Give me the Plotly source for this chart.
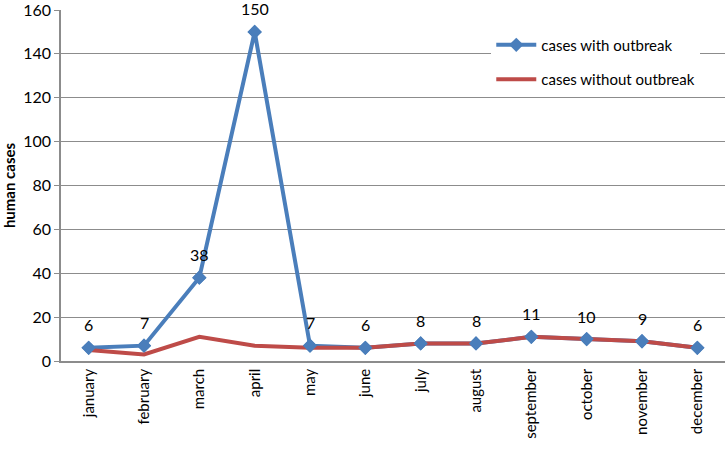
import plotly.graph_objects as go

months = ["january", "february", "march", "april", "may", "june", "july",
          "august", "september", "october", "november", "december"]
with_outbreak = [6, 7, 38, 150, 7, 6, 8, 8, 11, 10, 9, 6]
without_outbreak = [5, 3, 11, 7, 6, 6, 8, 8, 11, 10, 9, 6]
y_ticks = [0, 20, 40, 60, 80, 100, 120, 140, 160]

blue = "#4a7ebb"
red = "#be4b48"
grid = "#8c8c8c"
font = "Lato, Open Sans, sans-serif"

fig = go.Figure()
fig.add_trace(go.Scatter(
    x=months, y=with_outbreak, name="cases with outbreak",
    mode="lines+markers", legendgroup="a",
    line=dict(color=blue, width=4),
    marker=dict(symbol="diamond", size=11, color=blue),
))
fig.add_trace(go.Scatter(
    x=months, y=without_outbreak, name="cases without outbreak",
    mode="lines", legendgroup="b",
    line=dict(color=red, width=4),
))
# keep the blue diamonds visible on top of the red line
fig.add_trace(go.Scatter(
    x=months, y=with_outbreak, mode="markers", showlegend=False,
    marker=dict(symbol="diamond", size=11, color=blue),
    hoverinfo="skip",
))

for m, v in zip(months, with_outbreak):
    fig.add_annotation(x=m, y=v, text=str(v), showarrow=False, yshift=23,
                       font=dict(family=font, size=16, color="black"))

fig.update_layout(
    width=725, height=457,
    margin=dict(l=61, r=0, t=10, b=96, autoexpand=False),
    plot_bgcolor="white", paper_bgcolor="white",
    font=dict(family=font, color="black"),
    showlegend=True,
    legend=dict(
        x=0.648, y=0.947, xanchor="left", yanchor="top",
        bgcolor="white", borderwidth=0,
        font=dict(family=font, size=15, color="black"),
        tracegroupgap=12, itemwidth=40,
    ),
)
fig.update_xaxes(
    tickangle=-90, tickfont=dict(family=font, size=15),
    showline=True, linecolor=grid, linewidth=1.5,
    showgrid=False, range=[-0.5, 11.5], automargin=False,
)
fig.update_yaxes(
    range=[0, 160], tickvals=y_ticks,
    tickfont=dict(family=font, size=16),
    ticklabeloverflow="allow",
    showgrid=True, gridcolor=grid, gridwidth=1,
    showline=True, linecolor=grid, linewidth=1.5,
    ticks="outside", ticklen=5, tickcolor=grid,
    zeroline=False, automargin=False,
    title=dict(text="<b>human cases</b>", font=dict(family=font, size=15),
               standoff=6),
)

fig.write_html("out.html", config={"displayModeBar": False},
               post_script="document.body.style.margin='0';")
